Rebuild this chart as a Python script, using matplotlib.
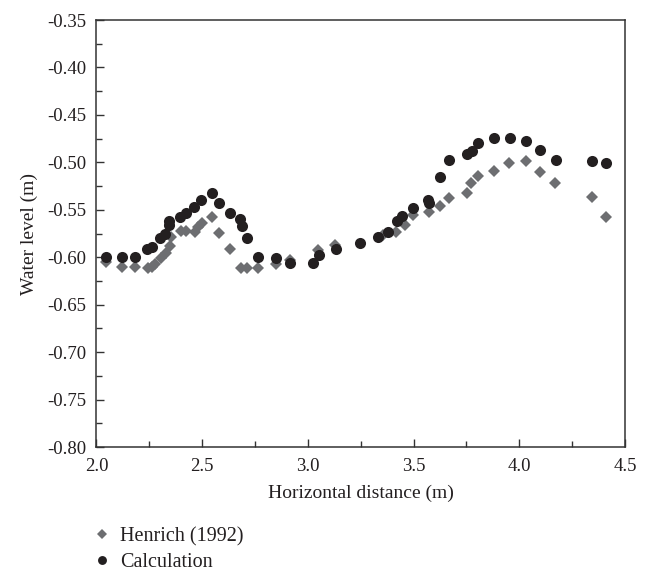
import matplotlib
matplotlib.use("Agg")
import matplotlib.pyplot as plt
from matplotlib.ticker import MultipleLocator, FormatStrFormatter

plt.rcParams['font.family'] = ['Liberation Serif', 'DejaVu Serif']

# Henrich (1992) measured data
henrich_x = [2.045, 2.121, 2.182, 2.244, 2.263, 2.277, 2.305, 2.329, 2.348, 2.352,
             2.400, 2.423, 2.466, 2.480, 2.499, 2.546, 2.580, 2.632, 2.684, 2.712,
             2.764, 2.849, 2.915, 3.048, 3.128, 3.355, 3.417, 3.459, 3.497, 3.573,
             3.625, 3.668, 3.753, 3.772, 3.805, 3.880, 3.951, 4.032, 4.098, 4.169,
             4.344, 4.410]
henrich_y = [-0.605, -0.610, -0.610, -0.611, -0.610, -0.607, -0.601, -0.596, -0.588, -0.579,
             -0.572, -0.572, -0.573, -0.568, -0.564, -0.558, -0.574, -0.591, -0.611, -0.611,
             -0.611, -0.607, -0.603, -0.592, -0.587, -0.577, -0.573, -0.566, -0.555, -0.552,
             -0.546, -0.538, -0.532, -0.522, -0.514, -0.509, -0.501, -0.499, -0.510, -0.522,
             -0.537, -0.558]

# Calculation
calc_x = [2.045, 2.121, 2.182, 2.239, 2.263, 2.300, 2.324, 2.343, 2.343, 2.395,
          2.423, 2.461, 2.494, 2.546, 2.580, 2.632, 2.679, 2.688, 2.712, 2.764,
          2.849, 2.915, 3.024, 3.052, 3.133, 3.246, 3.332, 3.379, 3.421, 3.445,
          3.497, 3.568, 3.573, 3.625, 3.668, 3.753, 3.777, 3.805, 3.880, 3.956,
          4.032, 4.098, 4.174, 4.344, 4.410]
calc_y = [-0.600, -0.600, -0.600, -0.591, -0.589, -0.580, -0.576, -0.566, -0.562, -0.558,
          -0.553, -0.547, -0.540, -0.532, -0.543, -0.553, -0.560, -0.567, -0.580, -0.600,
          -0.601, -0.606, -0.606, -0.598, -0.591, -0.585, -0.579, -0.573, -0.562, -0.557,
          -0.548, -0.540, -0.543, -0.515, -0.498, -0.491, -0.488, -0.480, -0.474, -0.474,
          -0.478, -0.487, -0.498, -0.499, -0.501]

fig = plt.figure(figsize=(6.47, 5.72), dpi=100)
ax = fig.add_axes([0.149, 0.2185, 0.817, 0.7465])

ax.plot(henrich_x, henrich_y, linestyle='none', marker='D', markersize=6.3,
        color='#6d6e71', markeredgewidth=0, label='Henrich (1992)', zorder=2)
ax.plot(calc_x, calc_y, linestyle='none', marker='o', markersize=8,
        color='#231f20', markeredgewidth=0, label='Calculation', zorder=3)

ax.set_xlim(2.0, 4.5)
ax.set_ylim(-0.80, -0.35)
ax.xaxis.set_major_locator(MultipleLocator(0.5))
ax.xaxis.set_minor_locator(MultipleLocator(0.25))
ax.yaxis.set_major_locator(MultipleLocator(0.05))
ax.yaxis.set_minor_locator(MultipleLocator(0.025))
ax.xaxis.set_major_formatter(FormatStrFormatter('%.1f'))
ax.yaxis.set_major_formatter(FormatStrFormatter('%.2f'))

for s in ax.spines.values():
    s.set_linewidth(1.1)
    s.set_color('#333333')

ax.tick_params(which='both', direction='in', top=False, right=False,
               color='#333333', labelsize=13.5, labelcolor='#231f20')
ax.tick_params(which='major', length=6, width=1.0)
ax.tick_params(axis='y', which='major', pad=7)
ax.tick_params(axis='x', which='major', pad=8)
ax.tick_params(which='minor', length=4, width=1.0)

ax.set_xlabel('Horizontal distance (m)', fontsize=14, color='#231f20', labelpad=7)
ax.set_ylabel('Water level (m)', fontsize=14, color='#231f20', labelpad=7)

fig.legend(loc='upper left', bbox_to_anchor=(0.128, 0.093), frameon=False,
           fontsize=14.5, handletextpad=0.35, labelspacing=0.35, markerscale=0.8,
           borderaxespad=0, handlelength=1.1, labelcolor='#231f20')

fig.savefig('out.png', dpi=100)
